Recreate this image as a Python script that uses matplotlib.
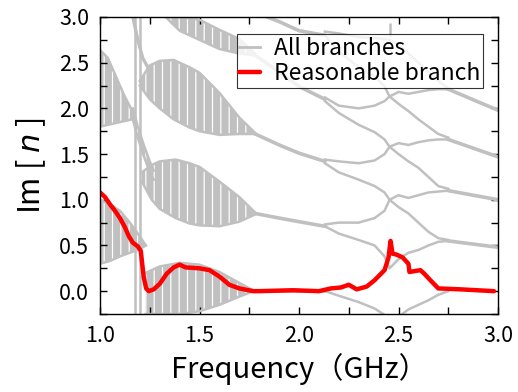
import matplotlib
matplotlib.use("Agg")
import matplotlib.pyplot as plt
from matplotlib.ticker import MultipleLocator
import numpy as np

plt.rcParams['font.family'] = ['Noto Sans CJK JP', 'DejaVu Sans']
plt.rcParams['mathtext.fontset'] = 'dejavusans'
plt.rcParams['hatch.linewidth'] = 0.9

GREY = '#c0c0c0'
RED = '#ff0000'

#---Reasonable branch (red)---
red_x = [1.0, 1.025, 1.05, 1.075, 1.10, 1.125, 1.145, 1.165, 1.19, 1.205, 1.212, 1.22,
         1.232, 1.245, 1.27, 1.30, 1.335, 1.37, 1.40, 1.43, 1.50, 1.55, 1.60, 1.65,
         1.70, 1.77, 1.80, 1.97, 2.10, 2.16, 2.21, 2.25, 2.29, 2.34, 2.38, 2.43, 2.45,
         2.46, 2.47, 2.49, 2.52, 2.55, 2.555, 2.61, 2.63, 2.66, 2.70, 2.81, 2.98]
red_y = [1.08, 1.03, 0.95, 0.88, 0.80, 0.70, 0.60, 0.53, 0.49, 0.44, 0.30, 0.15,
         0.03, 0.0, 0.02, 0.08, 0.19, 0.26, 0.29, 0.26, 0.25, 0.23, 0.16, 0.07,
         0.03, 0.0, 0.0, 0.01, 0.0, 0.03, 0.04, 0.07, 0.02, 0.05, 0.12, 0.23, 0.37,
         0.55, 0.41, 0.40, 0.37, 0.30, 0.21, 0.23, 0.19, 0.12, 0.03, 0.02, 0.0]

#---Oscillating bands at low frequency (grey envelopes)---
band_a_x = [1.0, 1.04, 1.08, 1.12, 1.16, 1.175]
band_a_lo = [1.80, 1.82, 1.84, 1.86, 1.88, 1.92]
band_a_hi = [2.64, 2.55, 2.35, 2.15, 1.98, 1.92]

band_e_x = [1.0, 1.05, 1.10, 1.15, 1.20, 1.23]
band_e_lo = [0.30, 0.33, 0.38, 0.42, 0.46, 0.50]
band_e_hi = [1.00, 0.95, 0.88, 0.75, 0.60, 0.50]

band_b_x = [1.20, 1.25, 1.30, 1.37, 1.45, 1.50, 1.60, 1.70, 1.78]
band_b_lo = [2.25, 2.10, 2.00, 1.88, 1.79, 1.75, 1.71, 1.72, 1.72]
band_b_hi = [2.30, 2.47, 2.52, 2.53, 2.45, 2.39, 2.17, 1.90, 1.73]

band_c_x = [1.21, 1.26, 1.30, 1.38, 1.45, 1.50, 1.60, 1.70, 1.78]
band_c_lo = [1.20, 1.00, 0.90, 0.80, 0.74, 0.72, 0.71, 0.76, 0.84]
band_c_hi = [1.30, 1.38, 1.42, 1.44, 1.40, 1.36, 1.20, 1.03, 0.86]

band_d_x = [1.23, 1.30, 1.40, 1.50, 1.60, 1.70, 1.76]
band_d_lo = [-0.25, -0.25, -0.25, -0.22, -0.15, -0.06, -0.01]
band_d_hi = [0.20, 0.27, 0.31, 0.29, 0.21, 0.09, 0.02]

band_f_x = [1.33, 1.40, 1.50, 1.60, 1.70, 1.78]
band_f_lo = [3.00, 2.85, 2.75, 2.65, 2.60, 2.58]
band_f_hi = [3.00, 3.00, 2.97, 2.86, 2.76, 2.60]

# diagonal link between the top-left band and band C
band_g_x = [1.165, 1.19, 1.22, 1.25, 1.27]
band_g_lo = [1.88, 1.68, 1.48, 1.30, 1.22]
band_g_hi = [2.00, 1.80, 1.60, 1.42, 1.32]

#---Connecting curves near 1.2 GHz---
link_top_x = [1.165, 1.19, 1.215, 1.24]
link_top_y = [3.0, 2.75, 2.55, 2.45]

#---Converged branches, 1.78 - 2.13 GHz---
conv_x = [1.78, 1.90, 2.00, 2.13]
conv_l0 = [0.0, 0.0, 0.0, 0.0]
conv_l1 = [0.85, 0.80, 0.76, 0.71]
conv_l2 = [1.72, 1.60, 1.51, 1.42]
conv_l3 = [2.58, 2.40, 2.24, 2.10]
conv_l4 = [3.05, 2.95, 2.85, 2.80]

#---Split branches around the 2.45 GHz resonance---
mid_x = [2.13, 2.20, 2.30, 2.38, 2.43, 2.455, 2.50, 2.55, 2.60, 2.65, 2.70, 2.75]
l0_lo = [0.0, -0.05, -0.12, -0.19, -0.26, -0.30, -0.28, -0.20, -0.15, -0.10, -0.04, 0.0]
l1_lo = [0.71, 0.63, 0.56, 0.50, 0.38, 0.25, 0.35, 0.42, 0.45, 0.50, 0.54, 0.55]
l1_hi = [0.73, 0.75, 0.75, 0.80, 0.88, 1.00, 0.92, 0.85, 0.75, 0.65, 0.58, 0.56]
l2_lo = [1.40, 1.30, 1.22, 1.15, 1.08, 1.00, 1.05, 1.02, 1.05, 1.08, 1.09, 1.10]
l2_hi = [1.44, 1.42, 1.40, 1.43, 1.50, 1.58, 1.50, 1.42, 1.35, 1.25, 1.15, 1.12]
l3_lo = [2.08, 1.95, 1.82, 1.74, 1.66, 1.58, 1.62, 1.60, 1.63, 1.65, 1.66, 1.66]
l3_hi = [2.12, 2.03, 2.00, 2.03, 2.08, 2.13, 2.05, 1.97, 1.88, 1.80, 1.72, 1.68]
l4_lo = [2.80, 2.62, 2.45, 2.35, 2.24, 2.13, 2.18, 2.16, 2.18, 2.20, 2.21, 2.21]
l4_hi = [2.84, 2.82, 2.78, 2.77, 2.76, 2.75, 2.70, 2.60, 2.50, 2.40, 2.30, 2.22]

#---High frequency tails---
tail_x = [2.75, 3.0]
tail_l1 = [0.55, 0.48]
tail_l2 = [1.10, 1.00]
tail_l3 = [1.66, 1.47]
tail_l4 = [2.21, 1.98]

#---Vertical spikes (singular points)---
spike_x = [1.175, 1.20, 2.457]
spike_lo = [-0.25, -0.25, 2.78]
spike_hi = [3.0, 3.0, 2.93]

fig = plt.figure(figsize=(5.18, 3.92), dpi=100)
ax = fig.add_axes([100/518, 78/392, 398/518, 297/392])

lw_g = 1.8
bands = [(band_a_x, band_a_lo, band_a_hi), (band_e_x, band_e_lo, band_e_hi),
         (band_b_x, band_b_lo, band_b_hi), (band_c_x, band_c_lo, band_c_hi),
         (band_d_x, band_d_lo, band_d_hi), (band_f_x, band_f_lo, band_f_hi),
         (band_g_x, band_g_lo, band_g_hi)]
for bx, blo, bhi in bands:
    ax.fill_between(bx, blo, bhi, facecolor=GREY, edgecolor='white', hatch='||', lw=0)
    ax.plot(bx, blo, color=GREY, lw=lw_g)
    ax.plot(bx, bhi, color=GREY, lw=lw_g)

ax.plot(link_top_x, link_top_y, color=GREY, lw=2.4)
for cy in [conv_l0, conv_l1, conv_l2, conv_l3, conv_l4]:
    ax.plot(conv_x, cy, color=GREY, lw=2.6)
for my in [l0_lo, l1_lo, l1_hi, l2_lo, l2_hi, l3_lo, l3_hi, l4_lo, l4_hi]:
    ax.plot(mid_x, my, color=GREY, lw=lw_g)
for ty in [tail_l1, tail_l2, tail_l3, tail_l4]:
    ax.plot(tail_x, ty, color=GREY, lw=2.6)
ax.vlines(spike_x, spike_lo, spike_hi, color=GREY, lw=lw_g)

# legend proxy for grey
ax.plot([], [], color=GREY, lw=2, label='All branches')
ax.plot(red_x, red_y, color=RED, lw=3.2, label='Reasonable branch',
        solid_capstyle='round', solid_joinstyle='round')

ax.set_xlim(1.0, 3.0)
ax.set_ylim(-0.25, 3.0)
ax.xaxis.set_major_locator(MultipleLocator(0.5))
ax.xaxis.set_minor_locator(MultipleLocator(0.25))
ax.yaxis.set_major_locator(MultipleLocator(0.5))
ax.yaxis.set_minor_locator(MultipleLocator(0.25))
ax.tick_params(which='both', direction='in', top=True, right=True, length=5, width=1)
ax.tick_params(labelsize=15.5, pad=8)
for s in ax.spines.values():
    s.set_linewidth(1)

ax.set_xlabel('Frequency（GHz）', fontsize=21, labelpad=4)
ax.set_ylabel('Im [ $n$ ]', fontsize=22, labelpad=8)

leg = ax.legend(loc='upper right', bbox_to_anchor=(0.962, 0.943), borderaxespad=0,
                fontsize=16.5, frameon=True, fancybox=False, edgecolor='black',
                handlelength=0.9, handletextpad=0.6, borderpad=0.12, labelspacing=0.12)
leg.get_frame().set_linewidth(0.8)

plt.savefig('out.png', dpi=100)
